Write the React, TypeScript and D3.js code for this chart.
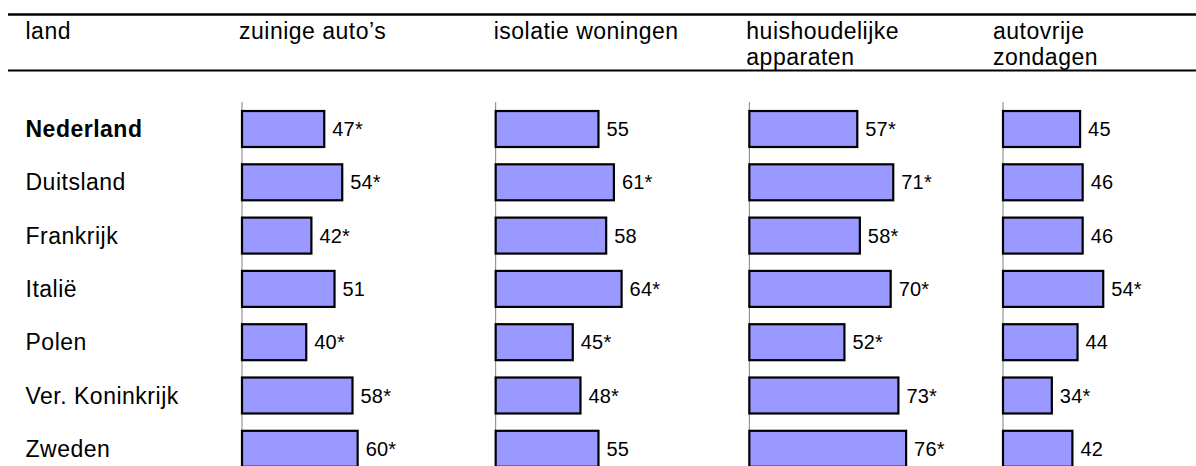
import React from "react";
import * as d3 from "d3";

const countries = ["Nederland", "Duitsland", "Frankrijk", "Italië", "Polen", "Ver. Koninkrijk", "Zweden"];
const measures = ["zuinige auto’s", "isolatie woningen", "huishoudelijke apparaten", "autovrije zondagen"];
const headerLines = [["zuinige auto’s"], ["isolatie woningen"], ["huishoudelijke", "apparaten"], ["autovrije", "zondagen"]];
const zuinigeAutos = [47, 54, 42, 51, 40, 58, 60];
const zuinigeAutosSig = [true, true, true, false, true, true, true];
const isolatieWoningen = [55, 61, 58, 64, 45, 48, 55];
const isolatieWoningenSig = [false, true, false, true, true, true, false];
const huishoudelijkeApparaten = [57, 71, 58, 70, 52, 73, 76];
const huishoudelijkeApparatenSig = [true, true, true, true, true, true, true];
const autovrijeZondagen = [45, 46, 46, 54, 44, 34, 42];
const autovrijeZondagenSig = [false, false, false, true, false, true, false];

const series = [
  { values: zuinigeAutos, sig: zuinigeAutosSig },
  { values: isolatieWoningen, sig: isolatieWoningenSig },
  { values: huishoudelijkeApparaten, sig: huishoudelijkeApparatenSig },
  { values: autovrijeZondagen, sig: autovrijeZondagenSig },
];

const W = 1196;
const H = 466;
const FONT = "'Liberation Sans', Arial, Helvetica, sans-serif";
const headerDx = [-3, -2, -3, -10];

export default function App() {
  const colX = d3.scalePoint<string>().domain(measures).range([242, 1003]);
  const step = 53.3;
  const y0 = 102.35;
  const y = d3
    .scaleBand<string>()
    .domain(countries)
    .range([y0, y0 + step * countries.length])
    .paddingInner(0.325)
    .paddingOuter(0.1625);
  const x = d3.scaleLinear().domain([15, 80]).range([0, 65 * 2.57]);

  return (
    <svg
      width={W}
      height={H}
      style={{ position: "absolute", left: 0, top: 0, background: "#fff" }}
      fontFamily={FONT}
    >
      <rect x={0} y={0} width={W} height={H} fill="#fff" />
      <line x1={8} x2={W} y1={14.5} y2={14.5} stroke="#000" strokeWidth={2.5} />
      <line x1={8} x2={W} y1={70.5} y2={70.5} stroke="#000" strokeWidth={2} />
      <text x={25.5} y={39} fontSize={23} letterSpacing={0.5} fill="#000">land</text>
      {measures.map((m, i) => (
        <text key={m} x={(colX(m) as number) + headerDx[i]} y={39} fontSize={23} letterSpacing={0.5} fill="#000">
          {headerLines[i].map((l, j) => (
            <tspan key={j} x={(colX(m) as number) + headerDx[i]} dy={j === 0 ? 0 : 25.5}>
              {l}
            </tspan>
          ))}
        </text>
      ))}
      {countries.map((c, i) => (
        <text
          key={c}
          x={25.5}
          y={(y(c) as number) + y.bandwidth() / 2 + 8}
          fontSize={23}
          letterSpacing={0.5}
          fontWeight={i === 0 ? "bold" : "normal"}
          fill="#000"
        >
          {c}
        </text>
      ))}
      {measures.map((m, mi) => {
        const ax = colX(m) as number;
        return (
          <g key={m}>
            <line x1={ax} x2={ax} y1={102} y2={H} stroke="#808080" strokeWidth={1} />
            {countries.map((c, ci) => {
              const v = series[mi].values[ci];
              const by = y(c) as number;
              const bw = x(v);
              return (
                <g key={c}>
                  <rect
                    x={ax}
                    y={by}
                    width={bw}
                    height={y.bandwidth()}
                    fill="#9999FF"
                    stroke="#000"
                    strokeWidth={2.2}
                  />
                  <text
                    x={ax + bw + 8}
                    y={by + y.bandwidth() / 2 + 7}
                    fontSize={20}
                    letterSpacing={0.2}
                    fill="#000"
                  >
                    {v + (series[mi].sig[ci] ? "*" : "")}
                  </text>
                </g>
              );
            })}
          </g>
        );
      })}
    </svg>
  );
}
